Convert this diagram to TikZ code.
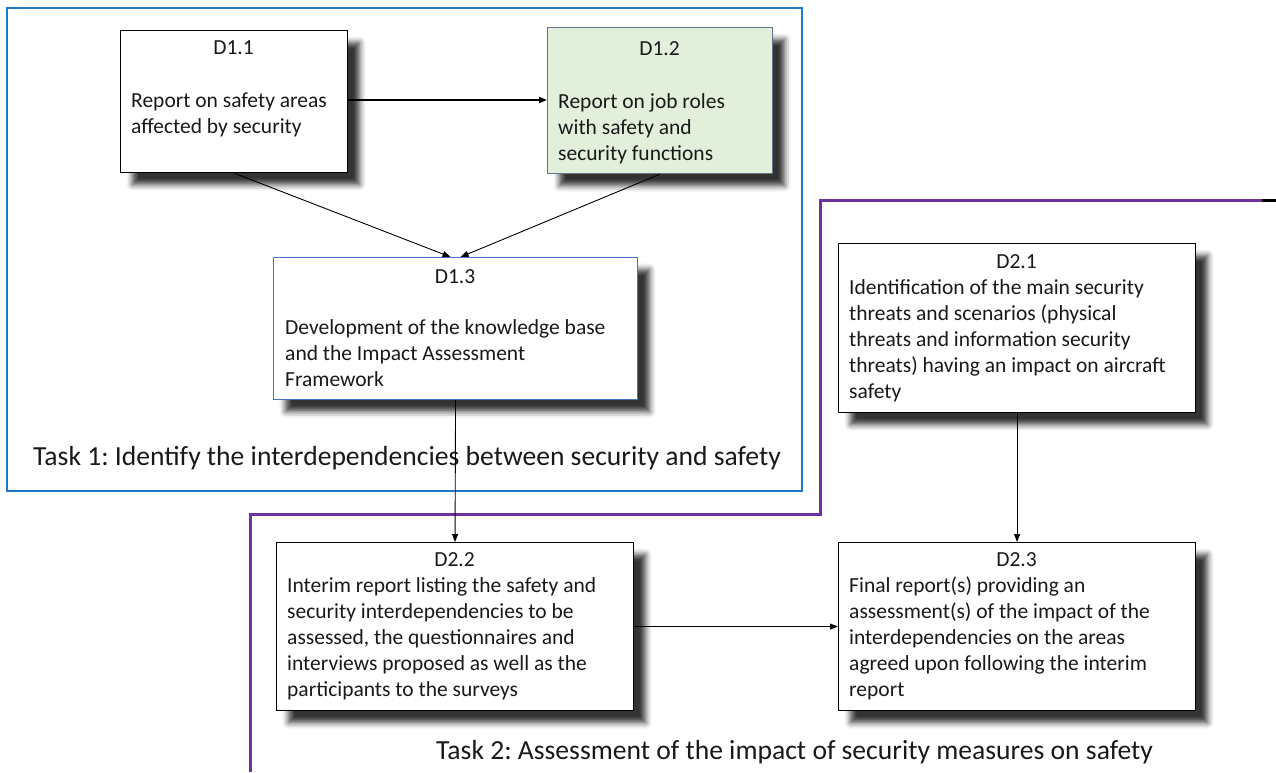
\documentclass[tikz,border=0pt]{standalone}
\usepackage{fontspec}
\setmainfont{Carlito}
\usetikzlibrary{arrows.meta,shadows.blur}
\definecolor{frameblue}{RGB}{30,122,200}
\definecolor{taskpurple}{RGB}{112,48,160}
\definecolor{greenfill}{RGB}{226,239,218}
\definecolor{greenedge}{RGB}{100,115,140}
\definecolor{d13edge}{RGB}{68,114,196}
\definecolor{txtgray}{RGB}{25,25,25}
\frenchspacing
\tikzset{
  box/.style={draw=black, line width=1.1pt, fill=white, anchor=north west, inner sep=0pt,
    blur shadow={shadow xshift=12pt, shadow yshift=-12pt, shadow blur radius=6pt, shadow opacity=80}},
  title/.style={anchor=base, inner sep=0pt, text=txtgray, font=\fontsize{21.5}{26}\selectfont},
  body/.style={anchor=north west, inner sep=0pt, align=left, text=txtgray, font=\fontsize{21.5}{26}\selectfont},
  tasklabel/.style={anchor=base west, inner sep=0pt, text=txtgray, font=\fontsize{27.6}{32}\selectfont},
  arr/.style={line width=0.9pt, -{Triangle[length=8pt,width=6pt]}},
}
\begin{document}
\begin{tikzpicture}[x=1pt,y=-1pt]
\useasboundingbox (0,0) rectangle (1276,772);
% Task frames
\draw[frameblue, line width=2.5pt] (7,8) rectangle (802,491);
\draw[taskpurple, line width=3pt] (1262,200) -- (820,200) -- (820,514) -- (250,514) -- (250,772);
\draw[black, line width=3pt] (1262,200) -- (1276,200);
% Boxes
\node[box, minimum width=227pt, minimum height=142pt] (d11) at (120,30) {};
\node[box, draw=greenedge, fill=greenfill, minimum width=225pt, minimum height=146pt] (d12) at (547,27) {};
\node[box, draw=d13edge, minimum width=364pt, minimum height=142pt] (d13) at (273,257) {};
\node[box, minimum width=357pt, minimum height=169pt] (d21) at (838,243) {};
\node[box, minimum width=357pt, minimum height=168pt] (d22) at (276,542) {};
\node[box, minimum width=357pt, minimum height=168pt] (d23) at (838,542) {};
% Texts
\node[title] (d11h) at (233.5,54) {D1.1};
\node[body] (d11b) at (131,107-18.2) {\strut Report on safety areas\\affected by security};
\node[title] (d12h) at (659.5,55) {D1.2};
\node[body] (d12b) at (558,108-18.2) {\strut Report on job roles\\with safety and\\security functions};
\node[title] (d13h) at (455,283) {D1.3};
\node[body] (d13b) at (285,334-18.2) {\strut Development of the knowledge base\\and the Impact Assessment\\Framework};
\node[title] (d21h) at (1016.5,268) {D2.1};
\node[body] (d21b) at (849,294-18.2) {\strut Identification of the main security\\threats and scenarios (physical\\threats and information security\\threats) having an impact on aircraft\\safety};
\node[title] (d22h) at (454.5,566) {D2.2};
\node[body] (d22b) at (287,592-18.2) {\strut Interim report listing the safety and\\security interdependencies to be\\assessed, the questionnaires and\\interviews proposed as well as the\\participants to the surveys};
\node[title] (d23h) at (1016.5,566) {D2.3};
\node[body] (d23b) at (849,592-18.2) {\strut Final report(s) providing an\\assessment(s) of the impact of the\\interdependencies on the areas\\agreed upon following the interim\\report};
\node[tasklabel] (t1) at (33,465) {Task 1: Identify the interdependencies between security and safety};
\node[tasklabel] (t2) at (436,759) {Task 2: Assessment of the impact of security measures on safety};
% Connectors
\draw[arr, line width=1.8pt] (d11.east |- 0,100) -- (d12.west |- 0,100);
\draw[arr] (d11.south) -- ([xshift=-5pt]d13.north);
\draw[arr] (d12.south) -- ([xshift=5pt]d13.north);
\draw[arr] (d13.south) -- (d22.north);
\draw[arr] (d21.south) -- (d23.north);
\draw[arr] (d22.east) -- (d23.west);
\end{tikzpicture}
\end{document}
